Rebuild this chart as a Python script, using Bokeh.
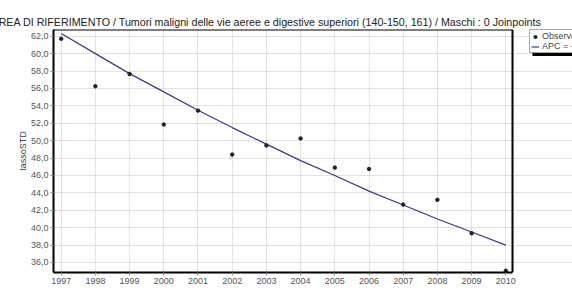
from bokeh.plotting import figure
from bokeh.models import FixedTicker, Legend, LegendItem, Range1d, ColumnDataSource, Span, BoxAnnotation
from bokeh.embed import file_html
from bokeh.resources import INLINE

# ---- data ----
years = [1997, 1998, 1999, 2000, 2001, 2002, 2003, 2004, 2005, 2006, 2007, 2008, 2009, 2010]
observed = [61.7, 56.25, 57.65, 51.85, 53.45, 48.4, 49.45, 50.25, 46.9, 46.75, 42.65, 43.2, 39.35, 35.05]
apc_fit = [62.3, 60.0, 57.7, 55.6, 53.5, 51.5, 49.6, 47.7, 46.0, 44.2, 42.6, 41.0, 39.5, 38.0]
y_ticks = [36, 38, 40, 42, 44, 46, 48, 50, 52, 54, 56, 58, 60, 62]
title_text = "AREA DI RIFERIMENTO / Tumori maligni delle vie aeree e digestive superiori (140-150, 161) / Maschi : 0 Joinpoints"
legend_labels = ["Observed", "APC = -3,7*"]

# visible plot box (data units) and the extended frame that leaves room for the legend
box_x = (1996.775, 2010.196)
box_y = (34.85, 62.77)
frame_x_end = 2011.95

src = ColumnDataSource(dict(year=years, obs=observed, fit=apc_fit))

p = figure(width=572, height=294, output_backend="svg", toolbar_location=None,
           x_range=Range1d(box_x[0], frame_x_end), y_range=Range1d(*box_y),
           min_border_left=53, min_border_right=0, min_border_top=29, min_border_bottom=22)

p.title.text = title_text
p.title.text_font = "Liberation Sans"
p.title.text_font_size = "10.7px"
p.title.text_font_style = "normal"
p.title.text_color = "#222222"
p.title.align = "left"
p.title.offset = -62
p.title.standoff = 4

line = p.line("year", "fit", source=src, line_color="#3a3a8c", line_width=1.2)
pts = p.scatter("year", "obs", source=src, size=3.5, fill_color="#222222", line_color="#222222")

# top and right edges of the plot box
p.segment(x0=[box_x[0]], y0=[box_y[1]], x1=[box_x[1]], y1=[box_y[1]], line_color="black", line_width=2)
p.add_layout(Span(location=box_x[1], dimension="height", line_color="black", line_width=2))

p.xaxis.ticker = FixedTicker(ticks=years)
p.xaxis.bounds = box_x
p.yaxis.ticker = FixedTicker(ticks=y_ticks)
p.yaxis.major_label_overrides = {t: f"{t},0" for t in y_ticks}
p.yaxis.axis_label = "tassoSTD"
p.yaxis.axis_label_standoff = 0
p.yaxis.axis_label_text_font = "Liberation Sans"
p.yaxis.axis_label_text_font_size = "9px"
p.yaxis.axis_label_text_font_style = "normal"
p.yaxis.axis_label_text_color = "#444444"

for ax in (p.xaxis[0], p.yaxis[0]):
    ax.axis_line_color = "black"
    ax.axis_line_width = 2
    ax.major_tick_in = 0
    ax.major_tick_out = 3
    ax.major_tick_line_color = "#888888"
    ax.minor_tick_line_color = None
    ax.major_label_text_font = "Liberation Sans"
    ax.major_label_text_font_size = "9px"
    ax.major_label_text_color = "#555555"
    ax.major_label_standoff = 2

p.xgrid.bounds = box_y
p.ygrid.bounds = box_x
p.grid.grid_line_color = "#c4c4c4"
p.grid.grid_line_dash = "1 1"
p.grid.grid_line_width = 1

p.outline_line_color = None
p.background_fill_color = "white"
p.border_fill_color = "white"

# drop shadow under the legend box
p.add_layout(BoxAnnotation(left=479, right=600, top=219.5, bottom=216.5,
                           left_units="screen", right_units="screen",
                           top_units="screen", bottom_units="screen",
                           fill_color="black", fill_alpha=1, line_color=None))

legend = Legend(items=[LegendItem(label=legend_labels[0], renderers=[pts]),
                       LegendItem(label=legend_labels[1], renderers=[line])],
                location=(476, 219), orientation="vertical",
                label_text_font="Liberation Sans", label_text_font_size="9px",
                label_height=9, glyph_height=9, glyph_width=8, spacing=0,
                padding=1, margin=0, label_standoff=3, border_line_width=1,
                border_line_color="#555555", background_fill_color="white",
                background_fill_alpha=1)
p.add_layout(legend)

open("out.html", "w").write(file_html(p, INLINE))
